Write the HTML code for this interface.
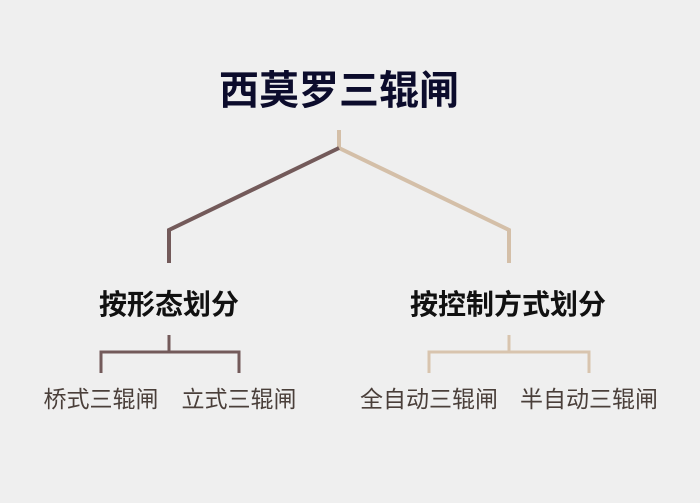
<!DOCTYPE html>
<html><head><meta charset="utf-8"><style>
body{margin:0;width:700px;height:503px;background:#efefef;position:relative;overflow:hidden;font-family:"Liberation Sans","Noto Sans CJK SC",sans-serif}
.t{position:absolute;white-space:nowrap;transform:translateX(-50%)}
</style></head><body>
<svg width="700" height="503" style="position:absolute;left:0;top:0">
<g fill="none" stroke-width="4" stroke-linejoin="miter">
<path d="M339 130V148" stroke="#d4bfa8"/>
<path d="M339 148L509 230V263" stroke="#d4bfa8"/>
<path d="M339 148L169 230V263" stroke="#735a5a"/>
</g>
<g fill="none" stroke-width="3">
<path d="M169 335V352M101 373V352H239V373" stroke="#735a5a"/>
<path d="M509 335V352M429 373V352H589V373" stroke="#d8c4ae"/>
</g>
</svg>
<div class="t" style="left:339px;top:58px;font-size:40px;font-weight:bold;color:#0c0c2c">西莫罗三辊闸</div>
<div class="t" style="left:169px;top:283px;font-size:28px;font-weight:bold;color:#111">按形态划分</div>
<div class="t" style="left:508px;top:283px;font-size:28px;font-weight:bold;color:#111">按控制方式划分</div>
<div class="t" style="left:101px;top:380px;font-size:23px;color:#4a3f3a">桥式三辊闸</div>
<div class="t" style="left:239px;top:380px;font-size:23px;color:#4a3f3a">立式三辊闸</div>
<div class="t" style="left:429px;top:380px;font-size:23px;color:#4a3f3a">全自动三辊闸</div>
<div class="t" style="left:589px;top:380px;font-size:23px;color:#4a3f3a">半自动三辊闸</div>
</body></html>
